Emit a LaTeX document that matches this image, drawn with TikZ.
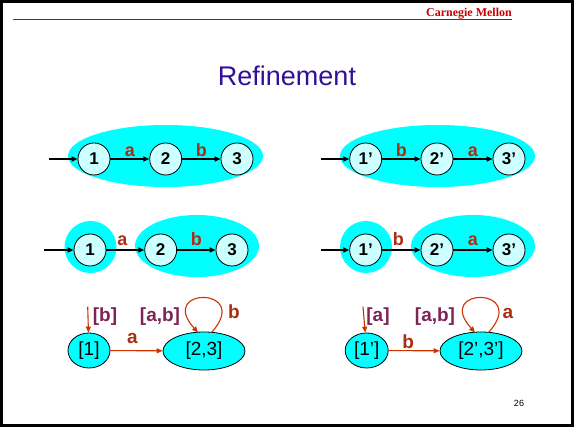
\documentclass[tikz,border=0pt]{standalone}
\usepackage{fontspec}
\setmainfont{Liberation Sans}
\newfontfamily\cmufont{Liberation Serif}
\usetikzlibrary{arrows.meta,shapes.geometric}

\definecolor{blobcyan}{RGB}{0,255,255}
\definecolor{statecyan}{RGB}{204,255,255}
\definecolor{lblred}{RGB}{170,45,20}
\definecolor{brkpurple}{RGB}{125,35,85}
\definecolor{arrred}{RGB}{204,51,0}
\definecolor{titleblue}{RGB}{48,16,150}
\definecolor{cmured}{RGB}{204,0,0}

\begin{document}
\begin{tikzpicture}[x=1pt,y=-1pt,>={Triangle[length=6pt,width=5pt]},
  state/.style={circle,draw,line width=0.8pt,fill=statecyan,minimum size=32pt,inner sep=0pt,font=\fontsize{17}{17}\selectfont\bfseries},
  blob/.style={fill=blobcyan},
  edge/.style={->,line width=1.6pt},
  lbl/.style={text=lblred,font=\fontsize{18}{18}\selectfont\bfseries,inner sep=2pt},
  cls/.style={ellipse,draw,line width=0.8pt,fill=blobcyan,inner sep=0pt,font=\fontsize{19}{19}\selectfont},
  redge/.style={->,draw=arrred,line width=1.1pt},
  rlbl/.style={text=lblred,font=\fontsize{19}{19}\selectfont\bfseries,inner sep=0pt},
  brk/.style={text=brkpurple,font=\fontsize{19}{19}\selectfont\bfseries,inner sep=0pt}]
  \useasboundingbox (0,0) rectangle (574,430);
  \draw[line width=3pt] (1.5,1.5) rectangle (572.5,425.8);
  % header
  \draw[line width=0.8pt,black!75] (13,19) -- (512,19);
  \node[anchor=base east,inner sep=0pt,text=cmured,font=\cmufont\fontsize{12}{12}\selectfont\bfseries] (cmu) at (512,17) {Carnegie Mellon};
  \node[text=titleblue,font=\fontsize{27}{27}\selectfont] (title) at (287,76) {Refinement};
  \node[font=\fontsize{9}{9}\selectfont] (page) at (519,403) {26};

  % row 1
  \fill[blob] (165.5,156) ellipse (97.5 and 31);
  \fill[blob] (437.5,156) ellipse (97.5 and 31);
  \node[state] (s1) at (94,159) {1};
  \node[state] (s2) at (165.7,159) {2};
  \node[state] (s3) at (237,159) {3};
  \coordinate (si) at (49,159);
  \draw[edge] (si) -- (s1);
  \draw[edge] (s1) -- node[lbl,above] {a} (s2);
  \draw[edge] (s2) -- node[lbl,above] {b} (s3);
  \node[state] (t1) at (365.7,159) {1'};
  \node[state] (t2) at (437,159) {2'};
  \node[state] (t3) at (509,159) {3'};
  \coordinate (ti) at (321,159);
  \draw[edge] (ti) -- (t1);
  \draw[edge] (t1) -- node[lbl,above] {b} (t2);
  \draw[edge] (t2) -- node[lbl,above] {a} (t3);

  % row 2
  \fill[blob] (90.5,247) circle (26);
  \fill[blob] (197,246) ellipse (62 and 31);
  \fill[blob] (366,247) circle (26);
  \fill[blob] (473,246) ellipse (62 and 31);
  \node[state] (u1) at (90,250) {1};
  \node[state] (u2) at (160.7,250) {2};
  \node[state] (u3) at (232,250) {3};
  \coordinate (ui) at (44,250);
  \draw[edge] (ui) -- (u1);
  \draw[edge] (u1) -- node[lbl,above,xshift=-3pt,yshift=2pt] {a} (u2);
  \draw[edge] (u2) -- node[lbl,above,yshift=2pt] {b} (u3);
  \node[state] (v1) at (365.7,250) {1'};
  \node[state] (v2) at (437,250) {2'};
  \node[state] (v3) at (509,250) {3'};
  \coordinate (vi) at (321,250);
  \draw[edge] (vi) -- (v1);
  \draw[edge] (v1) -- node[lbl,above,xshift=-3pt,yshift=2pt] {b} (v2);
  \draw[edge] (v2) -- node[lbl,above,yshift=2pt] {a} (v3);

  % row 3
  \node[cls,minimum width=42pt,minimum height=35pt] (p1) at (89,350.5) {[1]};
  \node[cls,minimum width=82pt,minimum height=38pt] (p23) at (204,351) {[2,3]};
  \coordinate (pi) at (87.7,306.7);
  \draw[redge] (pi) -- (p1);
  \node[brk] (pb) at (105,316.7) {[b]};
  \node[brk] (pab) at (160,316.7) {[a,b]};
  \draw[redge] (p1) -- node[rlbl,above=6pt,xshift=-4pt] {a} (p23);
  \coordinate (pl1) at (198,332.5);
  \coordinate (pl2) at (211.5,332.5);
  \draw[redge] (pl2) .. controls +(-48:62) and +(-132:62) .. (pl1);
  \node[rlbl] (pb2) at (234,312) {b};

  \node[cls,minimum width=43pt,minimum height=35pt] (q1) at (366.7,350.5) {[1']};
  \node[cls,minimum width=82pt,minimum height=38pt] (q23) at (481,351) {[2',3']};
  \coordinate (qi) at (363,306.7);
  \draw[redge] (qi) -- (q1);
  \node[brk] (qa) at (378,316.7) {[a]};
  \node[brk] (qab) at (435,316.7) {[a,b]};
  \draw[redge] (q1) -- node[rlbl,above=6pt,xshift=-6pt,yshift=-5pt] {b} (q23);
  \coordinate (ql1) at (475,332.5);
  \coordinate (ql2) at (488.5,332.5);
  \draw[redge] (ql2) .. controls +(-48:62) and +(-132:62) .. (ql1);
  \node[rlbl] (qa2) at (508,313) {a};
\end{tikzpicture}
\end{document}
